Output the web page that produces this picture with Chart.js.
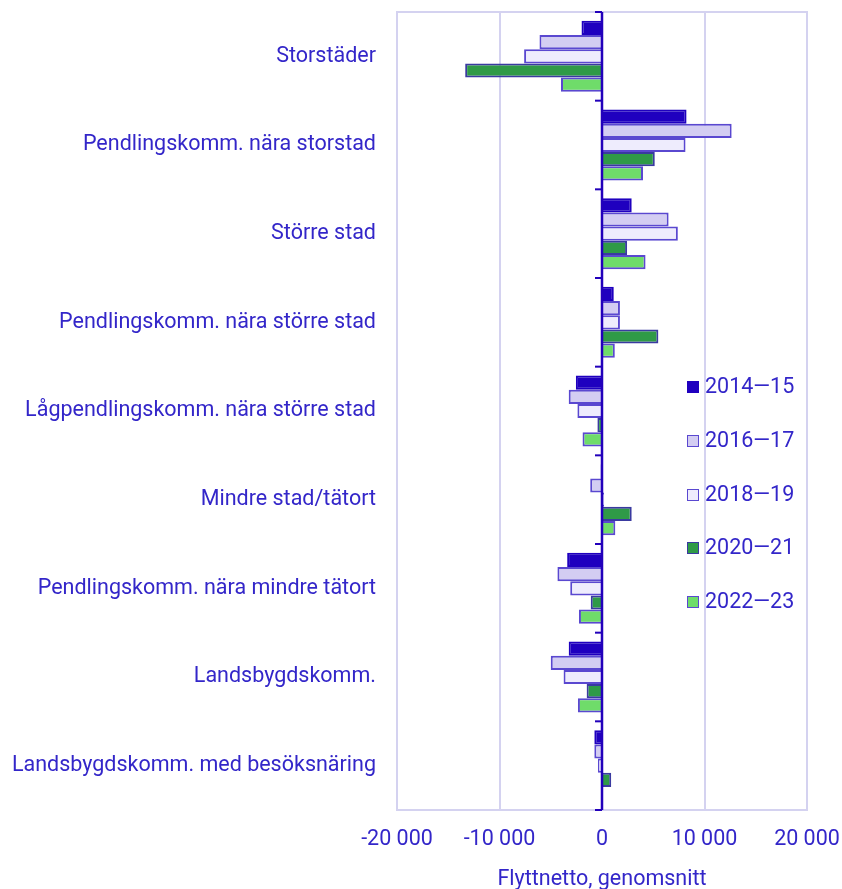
<!DOCTYPE html>
<html>
<head>
<meta charset="utf-8">
<script src="https://cdn.jsdelivr.net/npm/chart.js@4.4.1/dist/chart.umd.min.js"></script>
<style>
  html, body { margin: 0; padding: 0; background: #fff; }
  #wrap { position: relative; width: 842px; height: 889px; }
  #legend { position: absolute; left: 687px; top: 373px; font-family: Roboto, sans-serif; font-size: 21.5px; color: #3326c9; }
  #legend .item { height: 53.8px; display: flex; align-items: flex-start; }
  #legend .box { width: 10px; height: 10px; margin: 8px 6px 0 0; box-sizing: content-box; }
</style>
</head>
<body>
<div id="wrap">
  <canvas id="chart" width="842" height="889"></canvas>
  <div id="legend"></div>
</div>
<script>
const categories = [
  "Storstäder",
  "Pendlingskomm. nära storstad",
  "Större stad",
  "Pendlingskomm. nära större stad",
  "Lågpendlingskomm. nära större stad",
  "Mindre stad/tätort",
  "Pendlingskomm. nära mindre tätort",
  "Landsbygdskomm.",
  "Landsbygdskomm. med besöksnäring"
];
const seriesNames = ["2014\u201415", "2016\u201417", "2018\u201419", "2020\u201421", "2022\u201423"];
const v2014_15 = [-2000, 8250, 2900, 1150, -2550, -130, -3400, -3250, -750];
const v2016_17 = [-6100, 12650, 6500, 1750, -3250, -1150, -4350, -5000, -750];
const v2018_19 = [-7600, 8150, 7400, 1750, -2400, 200, -3100, -3750, -400];
const v2020_21 = [-13350, 5150, 2450, 5500, -450, 2900, -1100, -1500, 900];
const v2022_23 = [-4000, 4000, 4250, 1250, -1900, 1300, -2250, -2350, -50];
const xTicks = [-20000, -10000, 0, 10000, 20000];

const textColor = "#3326c9";
const gridColor = "#d4d2f0";
const axisColor = "#2200bb";
const fills = ["#1f00bf", "#d3cdf2", "#eeecfd", "#2f9a47", "#6fdc6a"];
const borders = ["#1f00bf", "#5a48d0", "#5a48d0", "#3a3aa0", "#5a48d0"];
const values = [v2014_15, v2016_17, v2018_19, v2020_21, v2022_23];
const fontSize = 21.5;

function fmt(v) {
  return String(v).replace(/\B(?=(\d{3})+(?!\d))/g, " ");
}

// frame round the plot and the short category ticks at zero
const framePlugin = {
  id: "frame",
  afterDatasetsDraw(chart) {
    const { ctx, chartArea: a, scales: { x, y } } = chart;
    ctx.save();
    ctx.strokeStyle = gridColor;
    ctx.lineWidth = 2;
    ctx.strokeRect(a.left, a.top, a.right - a.left, a.bottom - a.top);
    const x0 = x.getPixelForValue(0);
    ctx.strokeStyle = axisColor;
    ctx.lineWidth = 2.5;
    ctx.beginPath();
    ctx.moveTo(x0, a.top);
    ctx.lineTo(x0, a.bottom);
    ctx.stroke();
    ctx.lineWidth = 2;
    for (let i = 0; i <= categories.length; i++) {
      const py = y.getPixelForValue(i - 0.5);
      ctx.beginPath();
      ctx.moveTo(x0 - 7, py);
      ctx.lineTo(x0, py);
      ctx.stroke();
    }
    ctx.restore();
  }
};

const datasets = seriesNames.map((name, i) => ({
  label: name,
  data: values[i],
  backgroundColor: fills[i],
  borderColor: borders[i],
  borderWidth: 2,
  categoryPercentage: 0.8,
  barPercentage: 1.0
}));

const ctx = document.getElementById("chart").getContext("2d");
new Chart(ctx, {
  type: "bar",
  data: { labels: categories, datasets: datasets },
  options: {
    indexAxis: "y",
    responsive: false,
    animation: false,
    layout: { padding: { top: 12, right: 35, left: 0, bottom: 0 } },
    plugins: {
      legend: { display: false },
      tooltip: { enabled: false }
    },
    scales: {
      x: {
        min: -20000,
        max: 20000,
        afterBuildTicks: (scale) => { scale.ticks = xTicks.map(v => ({ value: v })); },
        afterFit: (scale) => { scale.paddingLeft = 0; scale.paddingRight = 0; scale.height = 79; },
        grid: { color: gridColor, lineWidth: 2, drawTicks: false },
        border: { display: false },
        ticks: {
          color: textColor,
          font: { family: "Roboto", size: fontSize },
          padding: 17,
          callback: (v) => fmt(v)
        },
        title: {
          display: true,
          text: "Flyttnetto, genomsnitt",
          color: textColor,
          font: { family: "Roboto", size: fontSize },
          padding: { top: 2, bottom: -4 }
        }
      },
      y: {
        grid: { display: false, drawTicks: false },
        border: { display: false },
        afterFit: (scale) => { scale.width = 397; scale.paddingTop = 0; scale.paddingBottom = 0; },
        ticks: {
          color: textColor,
          font: { family: "Roboto", size: fontSize },
          padding: 21
        }
      }
    }
  },
  plugins: [framePlugin]
});

// legend drawn as html next to the chart
const legend = document.getElementById("legend");
seriesNames.forEach((name, i) => {
  const item = document.createElement("div");
  item.className = "item";
  const box = document.createElement("span");
  box.className = "box";
  box.style.background = fills[i];
  box.style.border = "1.5px solid " + borders[i];
  const label = document.createElement("span");
  label.textContent = name;
  item.appendChild(box);
  item.appendChild(label);
  legend.appendChild(item);
});
</script>
</body>
</html>
